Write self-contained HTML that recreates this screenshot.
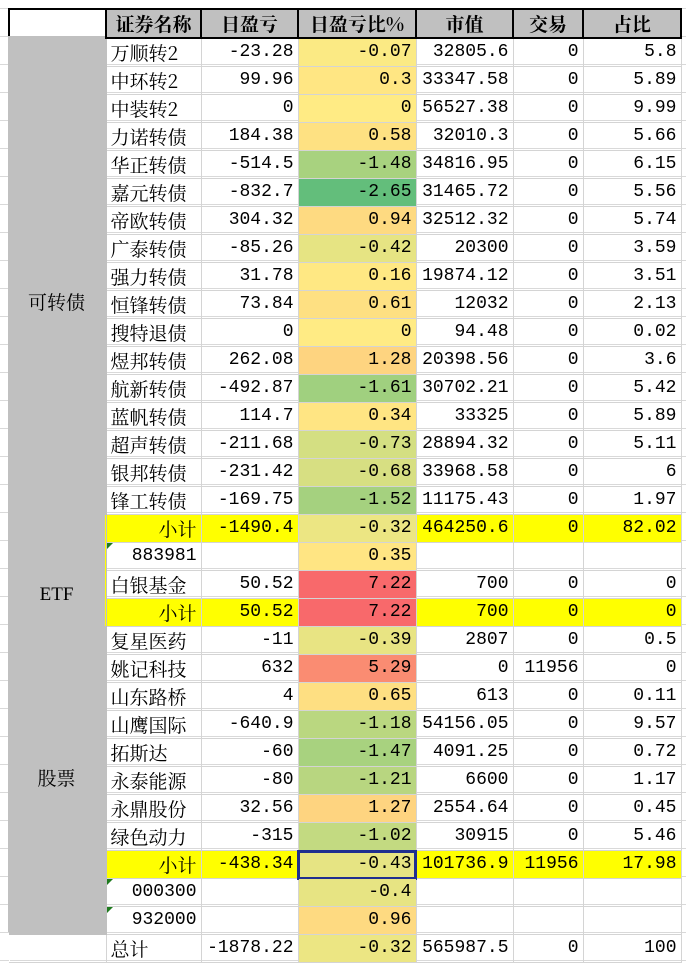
<!DOCTYPE html>
<html><head><meta charset="utf-8">
<style>
html,body{margin:0;padding:0;background:#fff;width:686px;height:969px;overflow:hidden;
background-image:linear-gradient(#d9d9d9 1px,transparent 1px);background-size:686px 28px;background-position:0 8px;}
table{position:absolute;left:8px;top:8px;width:672px;border-collapse:collapse;table-layout:fixed;
font-family:"Liberation Mono","Noto Serif CJK SC",monospace;font-size:18px;color:#000;}
td{box-sizing:border-box;height:28px;padding:0 4px;border:1px solid #d4d4d4;white-space:nowrap;overflow:hidden;text-align:right;line-height:27px;position:relative;}
.c{font-family:"Noto Serif CJK SC","Noto Sans CJK SC",serif;font-size:19px;text-align:left;}
.cr{font-family:"Noto Serif CJK SC","Noto Sans CJK SC",serif;font-size:19px;text-align:right;}
tr.h td{background:#c0c0c0;border:2px solid #000;font-weight:bold;text-align:center;font-family:"Noto Serif CJK SC","Noto Sans CJK SC",serif;font-size:19px;}
tr.h td.w{background:#fff;}
td.g{background:#c0c0c0;text-align:center;border-color:#c0c0c0;}
tr.y td{background:#ffff00;}
.t:before{content:"";position:absolute;left:0;top:0;border-top:6px solid #1e7b1e;border-right:6px solid transparent;}
.sel{outline:3px solid #1f2f8f;outline-offset:-2px;}
</style></head><body>
<table>
<colgroup><col style="width:97px"><col style="width:95px"><col style="width:97px"><col style="width:118px"><col style="width:97px"><col style="width:70px"><col style="width:98px"></colgroup>
<tr class="h"><td class="w"></td><td>证券名称</td><td>日盈亏</td><td>日盈亏比%</td><td>市值</td><td>交易</td><td>占比</td></tr>
<tr><td class="g" rowspan="17"></td><td class="c">万顺转2</td><td>-23.28</td><td style="background:rgb(251,234,132)">-0.07</td><td>32805.6</td><td>0</td><td>5.8</td></tr>
<tr><td class="c">中环转2</td><td>99.96</td><td style="background:rgb(255,230,131)">0.3</td><td>33347.58</td><td>0</td><td>5.89</td></tr>
<tr><td class="c">中装转2</td><td>0</td><td style="background:rgb(255,235,132)">0</td><td>56527.38</td><td>0</td><td>9.99</td></tr>
<tr><td class="c">力诺转债</td><td>184.38</td><td style="background:rgb(254,225,130)">0.58</td><td>32010.3</td><td>0</td><td>5.66</td></tr>
<tr><td class="c">华正转债</td><td>-514.5</td><td style="background:rgb(168,210,127)">-1.48</td><td>34816.95</td><td>0</td><td>6.15</td></tr>
<tr><td class="c">嘉元转债</td><td>-832.7</td><td style="background:rgb(99,190,123)">-2.65</td><td>31465.72</td><td>0</td><td>5.56</td></tr>
<tr><td class="c">帝欧转债</td><td>304.32</td><td style="background:rgb(254,218,129)">0.94</td><td>32512.32</td><td>0</td><td>5.74</td></tr>
<tr><td class="c">广泰转债</td><td>-85.26</td><td style="background:rgb(230,228,131)">-0.42</td><td>20300</td><td>0</td><td>3.59</td></tr>
<tr><td class="c">强力转债</td><td>31.78</td><td style="background:rgb(255,232,131)">0.16</td><td>19874.12</td><td>0</td><td>3.51</td></tr>
<tr><td class="c">恒锋转债</td><td>73.84</td><td style="background:rgb(254,224,130)">0.61</td><td>12032</td><td>0</td><td>2.13</td></tr>
<tr><td class="c">搜特退债</td><td>0</td><td style="background:rgb(255,235,132)">0</td><td>94.48</td><td>0</td><td>0.02</td></tr>
<tr><td class="c">煜邦转债</td><td>262.08</td><td style="background:rgb(254,212,128)">1.28</td><td>20398.56</td><td>0</td><td>3.6</td></tr>
<tr><td class="c">航新转债</td><td>-492.87</td><td style="background:rgb(160,208,127)">-1.61</td><td>30702.21</td><td>0</td><td>5.42</td></tr>
<tr><td class="c">蓝帆转债</td><td>114.7</td><td style="background:rgb(255,229,131)">0.34</td><td>33325</td><td>0</td><td>5.89</td></tr>
<tr><td class="c">超声转债</td><td>-211.68</td><td style="background:rgb(212,223,130)">-0.73</td><td>28894.32</td><td>0</td><td>5.11</td></tr>
<tr><td class="c">银邦转债</td><td>-231.42</td><td style="background:rgb(215,223,130)">-0.68</td><td>33968.58</td><td>0</td><td>6</td></tr>
<tr><td class="c">锋工转债</td><td>-169.75</td><td style="background:rgb(165,209,127)">-1.52</td><td>11175.43</td><td>0</td><td>1.97</td></tr>
<tr class="y"><td class="g" rowspan="4"></td><td class="cr">小计</td><td>-1490.4</td><td style="background:rgb(236,230,131)">-0.32</td><td>464250.6</td><td>0</td><td>82.02</td></tr>
<tr><td class="t">883981</td><td></td><td style="background:rgb(255,229,131)">0.35</td><td></td><td></td><td></td></tr>
<tr><td class="c">白银基金</td><td>50.52</td><td style="background:rgb(248,105,107)">7.22</td><td>700</td><td>0</td><td>0</td></tr>
<tr class="y"><td class="cr">小计</td><td>50.52</td><td style="background:rgb(248,105,107)">7.22</td><td>700</td><td>0</td><td>0</td></tr>
<tr><td class="g" rowspan="11"></td><td class="c">复星医药</td><td>-11</td><td style="background:rgb(232,228,131)">-0.39</td><td>2807</td><td>0</td><td>0.5</td></tr>
<tr><td class="c">姚记科技</td><td>632</td><td style="background:rgb(250,140,114)">5.29</td><td>0</td><td>11956</td><td>0</td></tr>
<tr><td class="c">山东路桥</td><td>4</td><td style="background:rgb(254,223,130)">0.65</td><td>613</td><td>0</td><td>0.11</td></tr>
<tr><td class="c">山鹰国际</td><td>-640.9</td><td style="background:rgb(186,215,128)">-1.18</td><td>54156.05</td><td>0</td><td>9.57</td></tr>
<tr><td class="c">拓斯达</td><td>-60</td><td style="background:rgb(168,210,127)">-1.47</td><td>4091.25</td><td>0</td><td>0.72</td></tr>
<tr><td class="c">永泰能源</td><td>-80</td><td style="background:rgb(184,214,128)">-1.21</td><td>6600</td><td>0</td><td>1.17</td></tr>
<tr><td class="c">永鼎股份</td><td>32.56</td><td style="background:rgb(254,212,128)">1.27</td><td>2554.64</td><td>0</td><td>0.45</td></tr>
<tr><td class="c">绿色动力</td><td>-315</td><td style="background:rgb(195,218,129)">-1.02</td><td>30915</td><td>0</td><td>5.46</td></tr>
<tr class="y"><td class="cr">小计</td><td>-438.34</td><td class="sel" style="background:rgb(230,228,131)">-0.43</td><td>101736.9</td><td>11956</td><td>17.98</td></tr>
<tr><td class="t">000300</td><td></td><td style="background:rgb(231,228,131)">-0.4</td><td></td><td></td><td></td></tr>
<tr><td class="t">932000</td><td></td><td style="background:rgb(254,218,129)">0.96</td><td></td><td></td><td></td></tr>
<tr><td style="border-left-color:#fff"></td><td class="c">总计</td><td>-1878.22</td><td style="background:rgb(236,230,131)">-0.32</td><td>565987.5</td><td>0</td><td>100</td></tr>
</table>
<div style="position:absolute;left:8px;top:36px;width:97px;height:896px;background:#c0c0c0;font-family:'Noto Serif CJK SC',serif;font-size:19px;">
<div style="position:absolute;top:252px;width:97px;text-align:center">可转债</div>
<div style="position:absolute;top:548px;width:97px;text-align:center;font-family:'Liberation Serif',serif">ETF</div>
<div style="position:absolute;top:728px;width:97px;text-align:center">股票</div>
</div>
</body></html>
